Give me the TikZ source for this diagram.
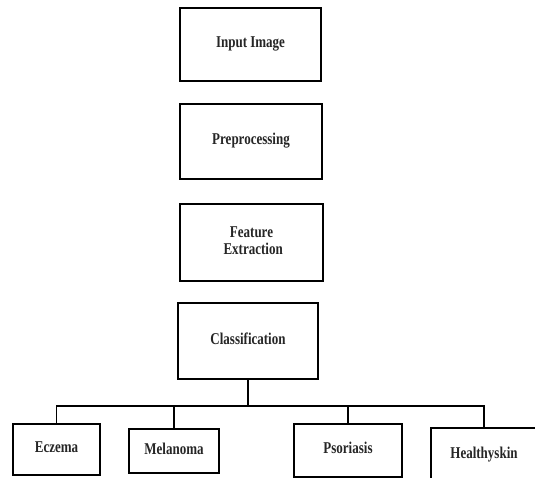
\documentclass[tikz,border=0pt]{standalone}
\usepackage{fontspec}
\usepackage{graphicx}
\setmainfont{Liberation Serif}
\usetikzlibrary{calc}
\newcommand{\tallname}[1]{\scalebox{1}[1.27]{\begin{tabular}{@{}c@{}}#1\end{tabular}}}
\tikzset{
	stagebox/.style={draw, line width=1.6pt, align=center, text=black!85,
		font=\fontsize{13}{13.5}\selectfont\bfseries, inner sep=2pt},
	busline/.style={line width=1.4pt}
}

\begin{document}
\begin{tikzpicture}[x=1pt, y=-1pt]
			%%%%% START %%%%%
			
			\useasboundingbox (0, 0) rectangle (535, 478);
			\fill[white] (0, 0) rectangle (535, 478);
			\clip (0, 0) rectangle (535, 478);
			
			\node[stagebox, minimum width=141pt, minimum height=73pt] (input) at (250.5, 44.5) {\tallname{Input Image}};
			\node[stagebox, minimum width=142pt, minimum height=75pt] (prep) at (251, 141.5) {\tallname{Preprocessing}};
			\node[stagebox, minimum width=143pt, minimum height=77pt] (feat) at (251.5, 242.5) {\tallname{Feature\\ \ Extraction}};
			\node[stagebox, minimum width=140pt, minimum height=76pt] (class) at (248, 341) {\tallname{Classification}};
			
			\node[stagebox, minimum width=87pt, minimum height=51pt] (eczema) at (56.5, 449.5) {\tallname{Eczema}};
			\node[stagebox, minimum width=90pt, minimum height=44pt] (melanoma) at (174, 451) {\tallname{Melanoma}};
			\node[stagebox, minimum width=108pt, minimum height=53pt] (psoriasis) at (348, 450.5) {\tallname{Psoriasis}};
			\node[stagebox, minimum width=106pt, minimum height=54pt] (healthy) at (484, 455) {\tallname{Healthyskin}};
			
			\coordinate (bus) at (248, 406);
			
			\draw[busline] (class.south) -- (bus);
			\draw[busline] (eczema.north) |- (bus) -| (healthy.north);
			\draw[busline] (melanoma.north) -- (melanoma.north |- bus);
			\draw[busline] (psoriasis.north) -- (psoriasis.north |- bus);
			
			%%%%% END %%%%%
		\end{tikzpicture}
\end{document}
